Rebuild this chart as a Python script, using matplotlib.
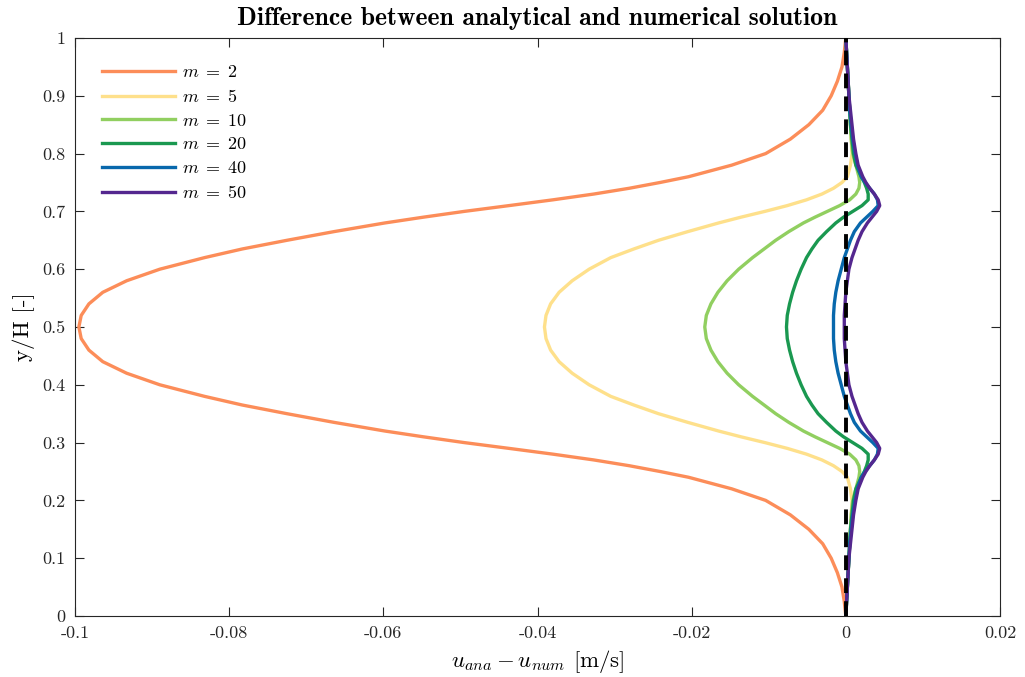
# Velocity error profiles for different numbers of grid points m

import matplotlib
matplotlib.use("Agg")
from matplotlib import pyplot as plt


plt.rcParams['font.family'] = 'cmr10'
plt.rcParams['mathtext.fontset'] = 'cm'
plt.rcParams['axes.unicode_minus'] = False


# Height positions y/H where the error was sampled
y_over_h = [0, 0.025, 0.05, 0.075, 0.1, 0.125, 0.15, 0.175, 0.2, 0.22, 0.24,
            0.25, 0.26, 0.27, 0.28, 0.29, 0.30, 0.31, 0.32, 0.335, 0.35, 0.365,
            0.38, 0.4, 0.42, 0.44, 0.46, 0.48, 0.5,
            0.52, 0.54, 0.56, 0.58, 0.6, 0.62, 0.635, 0.65, 0.665, 0.68,
            0.69, 0.70, 0.71, 0.72, 0.73, 0.74, 0.75, 0.76, 0.78, 0.8, 0.825,
            0.85, 0.875, 0.9, 0.925, 0.95, 0.975, 1.0]

# u_ana - u_num in m/s for each m
err_m2 = [0, -0.0002, -0.0005, -0.0011, -0.0019, -0.0030, -0.0048, -0.0072,
          -0.0104, -0.0148, -0.0204, -0.0241, -0.0281, -0.0327, -0.0380,
          -0.0437, -0.0495, -0.0548, -0.0598, -0.0664, -0.0725, -0.0783,
          -0.0832, -0.0890, -0.0933, -0.0964, -0.0982, -0.0992, -0.0995,
          -0.0992, -0.0982, -0.0964, -0.0933, -0.0890, -0.0832, -0.0783,
          -0.0725, -0.0664, -0.0598, -0.0548, -0.0495, -0.0437, -0.0380,
          -0.0327, -0.0281, -0.0241, -0.0204, -0.0148, -0.0104, -0.0072,
          -0.0048, -0.0030, -0.0019, -0.0011, -0.0005, -0.0002, 0]
err_m5 = [0, 0.0001, 0.0002, 0.0003, 0.0004, 0.0005, 0.0006, 0.0007, 0.0008,
          0.0006, 0.0002, -0.0005, -0.0016, -0.0031, -0.0051, -0.0076,
          -0.0105, -0.0136, -0.0165, -0.0205, -0.0243, -0.0275, -0.0305,
          -0.0333, -0.0355, -0.0372, -0.0383, -0.0389, -0.0391,
          -0.0389, -0.0383, -0.0372, -0.0355, -0.0333, -0.0305, -0.0275,
          -0.0243, -0.0205, -0.0165, -0.0136, -0.0105, -0.0076, -0.0051,
          -0.0031, -0.0016, -0.0005, 0.0002, 0.0006, 0.0008, 0.0007, 0.0006,
          0.0005, 0.0004, 0.0003, 0.0002, 0.0001, 0]
err_m10 = [0, 0.0001, 0.0002, 0.0003, 0.0004, 0.0005, 0.0006, 0.0007, 0.0009,
           0.0013, 0.0017, 0.0018, 0.0017, 0.0013, 0.0005, -0.0008, -0.0024,
           -0.0040, -0.0055, -0.0074, -0.0091, -0.0106, -0.0121, -0.0139,
           -0.0154, -0.0166, -0.0175, -0.0181, -0.0183,
           -0.0181, -0.0175, -0.0166, -0.0154, -0.0139, -0.0121, -0.0106,
           -0.0091, -0.0074, -0.0055, -0.0040, -0.0024, -0.0008, 0.0005,
           0.0013, 0.0017, 0.0018, 0.0017, 0.0013, 0.0009, 0.0007, 0.0006,
           0.0005, 0.0004, 0.0003, 0.0002, 0.0001, 0]
err_m20 = [0, 0.0001, 0.0002, 0.0003, 0.0004, 0.0005, 0.0006, 0.0008, 0.0010,
           0.0013, 0.0020, 0.0024, 0.0027, 0.0029, 0.0029, 0.0021, 0.0009,
           -0.0003, -0.0013, -0.0025, -0.0036, -0.0044, -0.0051, -0.0058,
           -0.0064, -0.0069, -0.0073, -0.0076, -0.0077,
           -0.0076, -0.0073, -0.0069, -0.0064, -0.0058, -0.0051, -0.0044,
           -0.0036, -0.0025, -0.0013, -0.0003, 0.0009, 0.0021, 0.0029,
           0.0029, 0.0027, 0.0024, 0.0020, 0.0013, 0.0010, 0.0008, 0.0006,
           0.0005, 0.0004, 0.0003, 0.0002, 0.0001, 0]
err_m40 = [0, 0.0001, 0.0002, 0.0003, 0.0004, 0.0005, 0.0007, 0.0009, 0.0012,
           0.0015, 0.0020, 0.0025, 0.0031, 0.0037, 0.0041, 0.0042, 0.0035,
           0.0027, 0.0019, 0.0011, 0.0006, 0.0002, -0.0002, -0.0006, -0.0010,
           -0.0013, -0.0015, -0.0016, -0.0016,
           -0.0016, -0.0015, -0.0013, -0.0010, -0.0006, -0.0002, 0.0002,
           0.0006, 0.0011, 0.0019, 0.0027, 0.0035, 0.0042, 0.0041, 0.0037,
           0.0031, 0.0025, 0.0020, 0.0015, 0.0012, 0.0009, 0.0007, 0.0005,
           0.0004, 0.0003, 0.0002, 0.0001, 0]
err_m50 = [0, 0.0001, 0.0002, 0.0003, 0.0004, 0.0006, 0.0008, 0.0010, 0.0013,
           0.0016, 0.0022, 0.0026, 0.0031, 0.0037, 0.0042, 0.0044, 0.0040,
           0.0034, 0.0028, 0.0021, 0.0016, 0.0012, 0.0008, 0.0004, 0.0002,
           0.0000, -0.0001, -0.0002, -0.0002,
           -0.0002, -0.0001, 0.0000, 0.0002, 0.0004, 0.0008, 0.0012, 0.0016,
           0.0021, 0.0028, 0.0034, 0.0040, 0.0044, 0.0042, 0.0037, 0.0031,
           0.0026, 0.0022, 0.0016, 0.0013, 0.0010, 0.0008, 0.0006, 0.0004,
           0.0003, 0.0002, 0.0001, 0]

m_values = [2, 5, 10, 20, 40, 50]
errors = [err_m2, err_m5, err_m10, err_m20, err_m40, err_m50]
colors = ['#fc8d59', '#fee08b', '#91cf60', '#1a9850', '#0868ac', '#54278f']

x_ticks = [-0.1, -0.08, -0.06, -0.04, -0.02, 0, 0.02]
x_tick_labels = ['-0.1', '-0.08', '-0.06', '-0.04', '-0.02', '0', '0.02']
y_ticks = [0, 0.1, 0.2, 0.3, 0.4, 0.5, 0.6, 0.7, 0.8, 0.9, 1]
y_tick_labels = ['0', '0.1', '0.2', '0.3', '0.4', '0.5', '0.6', '0.7', '0.8',
                 '0.9', '1']


fig = plt.figure(figsize=(10.25, 6.77), dpi=100)
ax = fig.add_axes([0.0732, 0.0901, 0.9024, 0.8538])

for m, err, c in zip(m_values, errors, colors):
    ax.plot(err, y_over_h, color=c, linewidth=2.4,
            label=r'$m\;=\;%d$' % m)

# zero error reference
ax.axvline(0, color='black', linewidth=2.8, dashes=(3.8, 2.1), zorder=5)

ax.set_xlim(-0.1, 0.02)
ax.set_ylim(0, 1)
ax.set_xticks(x_ticks)
ax.set_xticklabels(x_tick_labels)
ax.set_yticks(y_ticks)
ax.set_yticklabels(y_tick_labels)
ax.tick_params(direction='in', top=True, right=True, length=6.5,
               width=0.8, labelsize=13, colors='#262626', pad=7)
for spine in ax.spines.values():
    spine.set_color('#262626')
    spine.set_linewidth(0.8)

ax.set_xlabel(r'$u_{ana} - u_{num}$ [m/s]', fontsize=16.5, labelpad=5)
ax.set_ylabel('y/H [-]', fontsize=16.5, labelpad=5)
ax.set_title('Difference between analytical and numerical solution',
             fontfamily='cmb10', fontsize=18.5, pad=9)

ax.legend(loc='upper left', bbox_to_anchor=(0.012, 0.983), frameon=False,
          fontsize=13, handlelength=4.0, handletextpad=0.4,
          labelspacing=0.43)

fig.savefig('out.png', dpi=100)
